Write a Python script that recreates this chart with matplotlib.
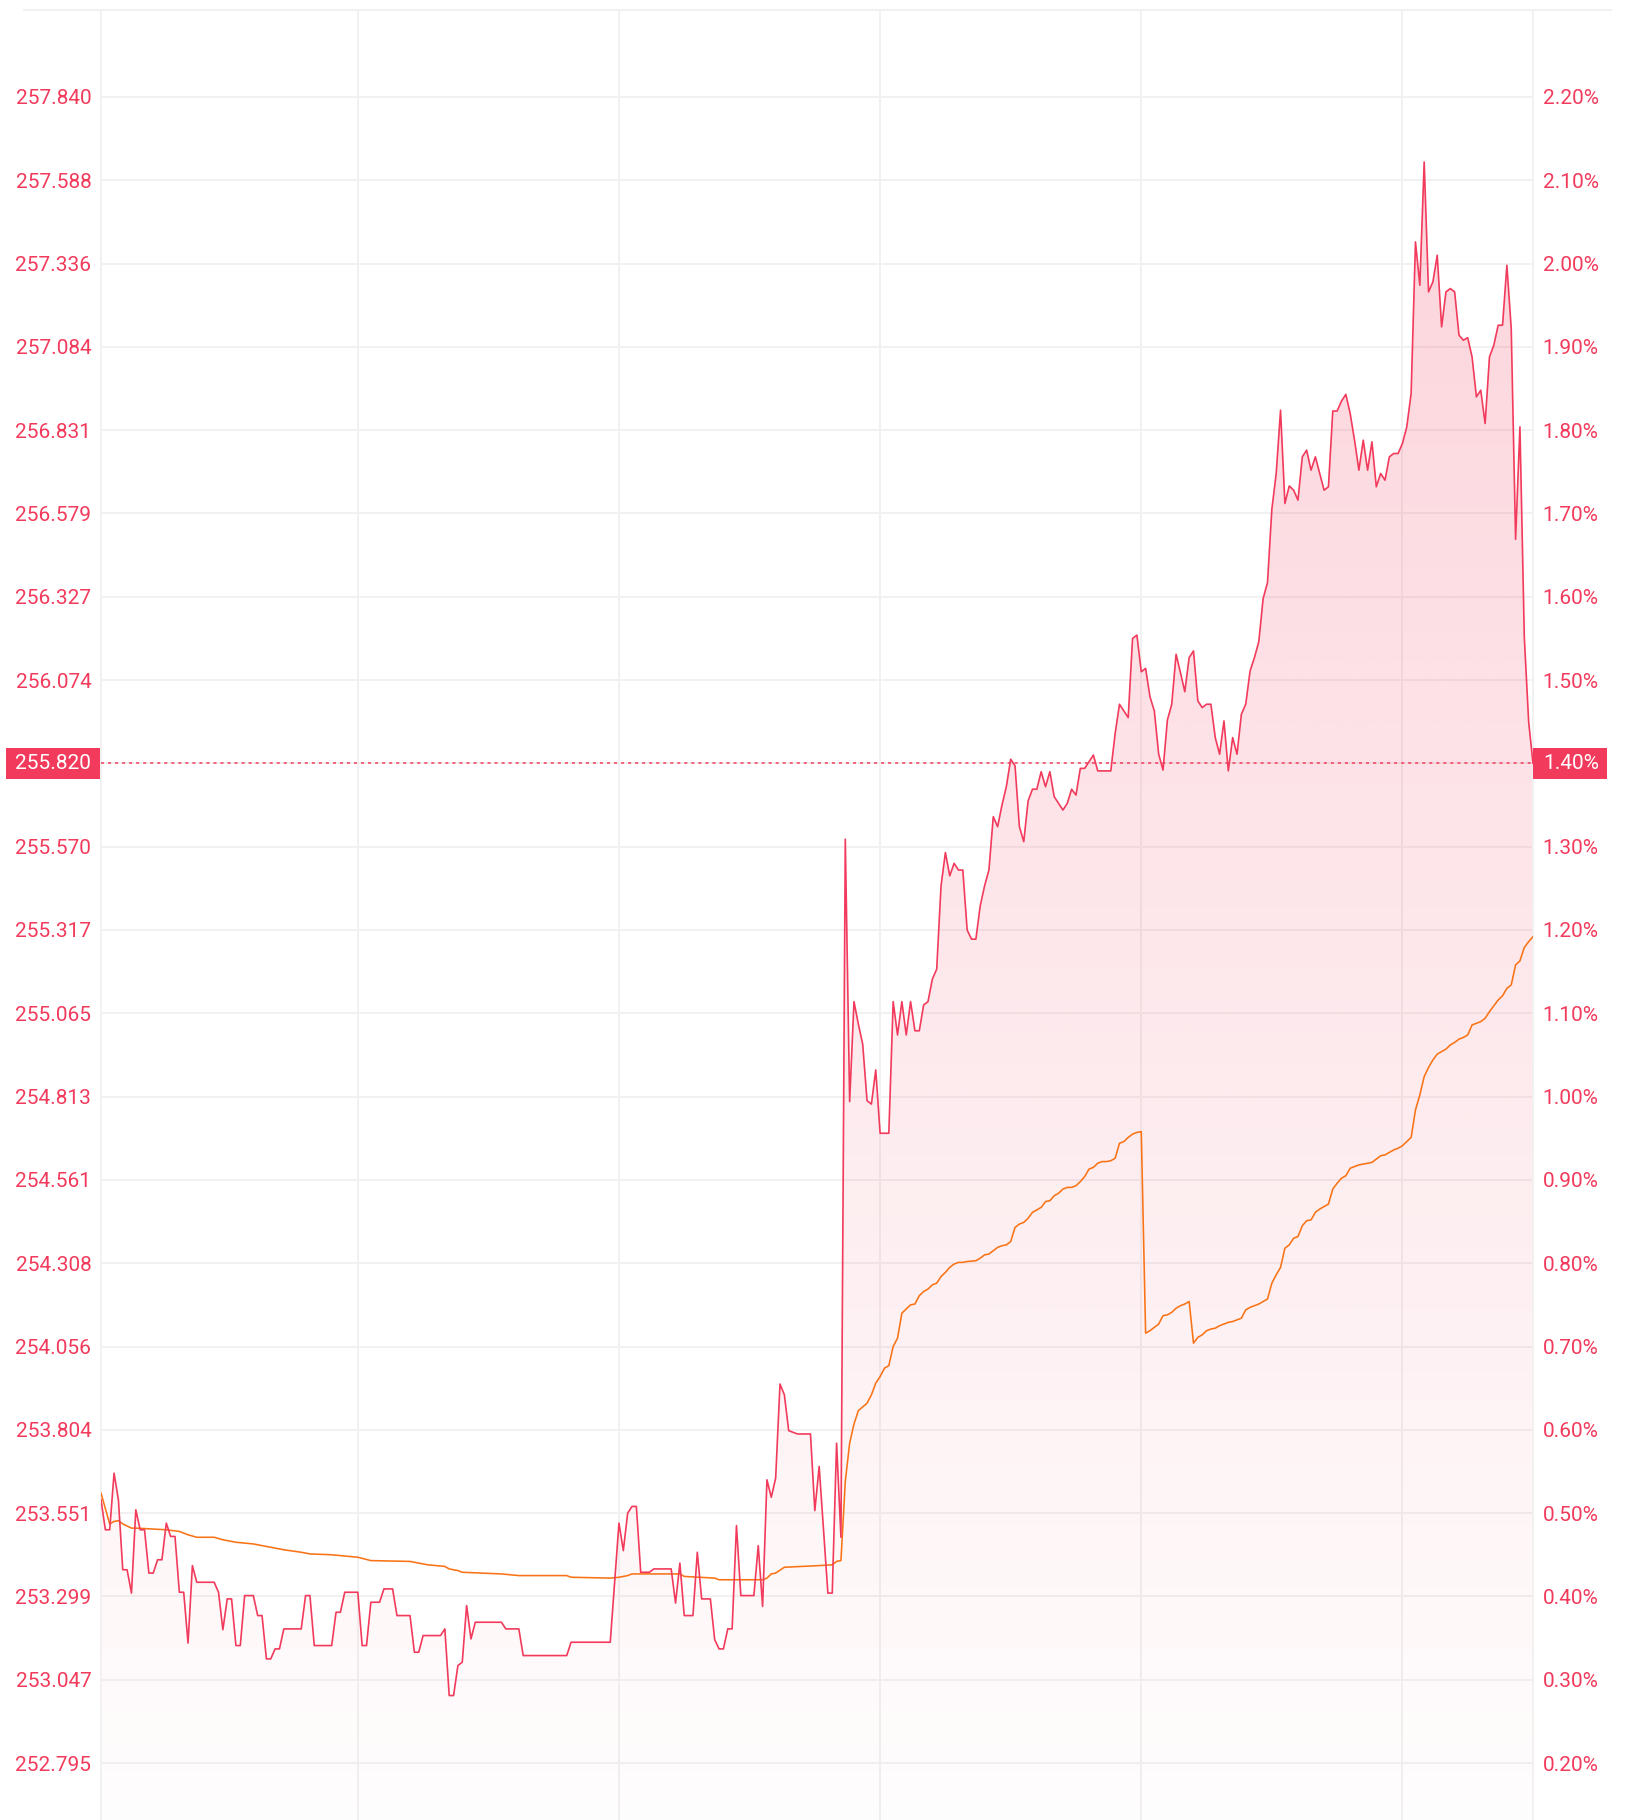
import numpy as np
import matplotlib

matplotlib.use("Agg")
import matplotlib.pyplot as plt
from matplotlib import transforms
from matplotlib.colors import to_rgb
from matplotlib.lines import Line2D
from matplotlib.patches import Polygon, Rectangle

RED = "#f23b5c"
ORANGE = "#f97316"
GRID = "#f1f1f1"

plt.rcParams["font.family"] = ["Roboto", "DejaVu Sans"]

# intraday price, as % change vs previous close (minute of session)
price_t = [
    1, 2, 3, 4, 5, 6, 7, 8, 9, 10, 11, 12, 13, 14, 15, 16, 17, 18, 19, 20,
    21, 22, 23, 27, 28, 29, 30, 31, 32, 33, 34, 36, 37, 38, 39, 40, 41, 42, 43, 47,
    48, 49, 50, 54, 55, 56, 57, 60, 61, 62, 63, 65, 66, 68, 69, 72, 73, 74, 75, 79,
    80, 81, 82, 83, 84, 85, 86, 87, 93, 94, 97, 98, 108, 109, 118, 120, 121, 122, 123, 124,
    125, 127, 128, 132, 133, 134, 135, 137, 138, 139, 141, 142, 143, 144, 145, 146, 147, 148, 151, 152,
    153, 154, 155, 156, 157, 158, 159, 161, 164, 165, 166, 168, 169, 170, 171, 172, 173, 174, 175, 176,
    177, 178, 179, 180, 182, 183, 184, 185, 186, 187, 188, 189, 190, 191, 192, 193, 194, 195, 196, 197,
    198, 199, 200, 201, 202, 203, 204, 205, 206, 207, 208, 209, 210, 211, 212, 213, 214, 215, 216, 217,
    218, 219, 220, 221, 222, 223, 224, 225, 226, 227, 228, 229, 230, 233, 234, 235, 236, 237, 238, 239,
    240, 241, 242, 243, 244, 245, 246, 247, 248, 249, 250, 251, 252, 253, 254, 255, 256, 257, 258, 259,
    260, 261, 262, 263, 264, 265, 266, 267, 268, 269, 270, 271, 272, 273, 274, 275, 276, 277, 278, 279,
    280, 281, 282, 283, 284, 285, 286, 287, 288, 289, 290, 291, 292, 293, 294, 295, 296, 297, 298, 299,
    300, 301, 302, 303, 304, 305, 306, 307, 308, 309, 310, 311, 312, 313, 314, 315, 316, 317, 318, 319,
    320, 321, 322, 323, 324, 325, 326, 327, 328, 329, 330,
]
price_pct = [
    0.516, 0.480, 0.480, 0.548, 0.516, 0.432, 0.432, 0.404, 0.504, 0.480, 0.480, 0.428, 0.428, 0.444, 0.444, 0.488, 0.472, 0.472, 0.405, 0.405,
    0.344, 0.437, 0.417, 0.417, 0.405, 0.360, 0.397, 0.397, 0.341, 0.341, 0.401, 0.401, 0.377, 0.377, 0.325, 0.325, 0.337, 0.337, 0.361, 0.361,
    0.401, 0.401, 0.341, 0.341, 0.381, 0.381, 0.405, 0.405, 0.341, 0.341, 0.393, 0.393, 0.409, 0.409, 0.377, 0.377, 0.333, 0.333, 0.353, 0.353,
    0.361, 0.281, 0.281, 0.317, 0.321, 0.389, 0.349, 0.369, 0.369, 0.361, 0.361, 0.329, 0.329, 0.345, 0.345, 0.488, 0.455, 0.500, 0.508, 0.508,
    0.429, 0.429, 0.433, 0.433, 0.392, 0.440, 0.377, 0.377, 0.453, 0.397, 0.397, 0.348, 0.337, 0.337, 0.361, 0.361, 0.485, 0.401, 0.401, 0.461,
    0.388, 0.540, 0.519, 0.542, 0.655, 0.642, 0.599, 0.595, 0.595, 0.503, 0.556, 0.404, 0.404, 0.584, 0.471, 1.309, 0.994, 1.114, 1.087, 1.063,
    0.995, 0.991, 1.032, 0.956, 0.956, 1.114, 1.074, 1.114, 1.074, 1.114, 1.079, 1.079, 1.110, 1.114, 1.141, 1.153, 1.253, 1.293, 1.265, 1.280,
    1.272, 1.272, 1.200, 1.189, 1.189, 1.229, 1.253, 1.272, 1.336, 1.324, 1.350, 1.372, 1.405, 1.397, 1.324, 1.306, 1.355, 1.369, 1.369, 1.390,
    1.372, 1.390, 1.360, 1.352, 1.344, 1.352, 1.369, 1.362, 1.394, 1.394, 1.402, 1.410, 1.391, 1.391, 1.436, 1.471, 1.463, 1.455, 1.550, 1.554,
    1.510, 1.514, 1.480, 1.463, 1.411, 1.392, 1.452, 1.471, 1.531, 1.509, 1.486, 1.527, 1.535, 1.475, 1.467, 1.471, 1.471, 1.431, 1.411, 1.451,
    1.391, 1.431, 1.411, 1.459, 1.471, 1.511, 1.527, 1.546, 1.598, 1.617, 1.705, 1.748, 1.824, 1.712, 1.733, 1.728, 1.716, 1.768, 1.776, 1.752,
    1.768, 1.748, 1.728, 1.732, 1.823, 1.823, 1.835, 1.843, 1.820, 1.788, 1.752, 1.788, 1.752, 1.786, 1.732, 1.748, 1.740, 1.768, 1.772, 1.772,
    1.784, 1.804, 1.844, 2.026, 1.974, 2.122, 1.966, 1.978, 2.010, 1.924, 1.966, 1.970, 1.966, 1.914, 1.908, 1.911, 1.888, 1.840, 1.848, 1.808,
    1.888, 1.902, 1.926, 1.926, 1.998, 1.922, 1.669, 1.804, 1.552, 1.450, 1.400,
]

# VWAP on the same scale
vwap_t = [
    1, 3, 4, 5, 6, 8, 9, 16, 19, 21, 23, 27, 29, 32, 36, 39, 43, 47, 49, 54,
    60, 63, 72, 76, 80, 81, 83, 84, 93, 97, 108, 109, 118, 120, 122, 123, 134, 135, 142, 143,
    153, 154, 155, 156, 158, 166, 169, 170, 171, 172, 173, 174, 175, 177, 178, 179, 180, 181, 182, 183,
    184, 185, 187, 188, 189, 190, 191, 192, 193, 194, 195, 196, 197, 198, 199, 200, 202, 203, 204, 205,
    206, 207, 208, 209, 210, 211, 212, 213, 214, 215, 216, 217, 218, 219, 220, 221, 222, 223, 224, 225,
    226, 227, 228, 229, 230, 231, 232, 233, 234, 235, 236, 237, 238, 239, 240, 241, 242, 243, 244, 245,
    246, 247, 248, 249, 250, 251, 252, 253, 254, 255, 256, 257, 258, 259, 260, 261, 262, 263, 264, 265,
    266, 267, 268, 269, 270, 271, 272, 273, 274, 275, 276, 277, 278, 279, 280, 281, 282, 283, 284, 285,
    286, 287, 288, 289, 290, 291, 292, 293, 294, 295, 296, 297, 298, 299, 300, 302, 303, 304, 305, 306,
    307, 308, 309, 310, 311, 312, 313, 314, 315, 316, 317, 318, 319, 320, 321, 322, 323, 324, 325, 326,
    327, 328, 329, 330,
]
vwap_pct = [
    0.524, 0.487, 0.490, 0.491, 0.487, 0.482, 0.482, 0.480, 0.478, 0.474, 0.471, 0.471, 0.468, 0.465, 0.463, 0.460, 0.456, 0.453, 0.451, 0.450,
    0.447, 0.443, 0.442, 0.438, 0.436, 0.433, 0.431, 0.429, 0.427, 0.425, 0.425, 0.423, 0.422, 0.423, 0.425, 0.427, 0.427, 0.424, 0.422, 0.420,
    0.420, 0.422, 0.427, 0.428, 0.435, 0.437, 0.438, 0.442, 0.443, 0.538, 0.584, 0.607, 0.623, 0.632, 0.642, 0.656, 0.664, 0.674, 0.677, 0.700,
    0.710, 0.740, 0.750, 0.751, 0.761, 0.766, 0.769, 0.774, 0.776, 0.784, 0.789, 0.795, 0.799, 0.801, 0.801, 0.802, 0.803, 0.806, 0.810, 0.811,
    0.815, 0.819, 0.821, 0.822, 0.826, 0.843, 0.847, 0.849, 0.854, 0.861, 0.864, 0.867, 0.874, 0.875, 0.881, 0.884, 0.889, 0.891, 0.891, 0.893,
    0.898, 0.904, 0.913, 0.915, 0.920, 0.922, 0.922, 0.923, 0.926, 0.944, 0.946, 0.951, 0.955, 0.957, 0.958, 0.716, 0.719, 0.723, 0.727, 0.737,
    0.738, 0.741, 0.746, 0.749, 0.751, 0.754, 0.704, 0.711, 0.714, 0.719, 0.721, 0.722, 0.725, 0.727, 0.729, 0.730, 0.732, 0.734, 0.744, 0.747,
    0.749, 0.751, 0.754, 0.757, 0.776, 0.786, 0.795, 0.818, 0.822, 0.830, 0.832, 0.845, 0.851, 0.852, 0.861, 0.865, 0.868, 0.871, 0.889, 0.896,
    0.902, 0.905, 0.914, 0.916, 0.918, 0.919, 0.920, 0.921, 0.925, 0.929, 0.930, 0.933, 0.936, 0.938, 0.941, 0.951, 0.984, 1.002, 1.024, 1.035,
    1.044, 1.051, 1.054, 1.057, 1.062, 1.065, 1.069, 1.071, 1.074, 1.086, 1.088, 1.090, 1.094, 1.102, 1.109, 1.116, 1.121, 1.130, 1.134, 1.158,
    1.163, 1.179, 1.186, 1.192,
]

pct_ticks = [0.2, 0.3, 0.4, 0.5, 0.6, 0.7, 0.8, 0.9, 1.0, 1.1, 1.2, 1.3, 1.4,
             1.5, 1.6, 1.7, 1.8, 1.9, 2.0, 2.1, 2.2]
price_labels = ["252.795", "253.047", "253.299", "253.551", "253.804", "254.056",
                "254.308", "254.561", "254.813", "255.065", "255.317", "255.570", "",
                "256.074", "256.327", "256.579", "256.831", "257.084", "257.336",
                "257.588", "257.840"]
pct_labels = ["0.20%", "0.30%", "0.40%", "0.50%", "0.60%", "0.70%", "0.80%",
              "0.90%", "1.00%", "1.10%", "1.20%", "1.30%", "", "1.50%", "1.60%",
              "1.70%", "1.80%", "1.90%", "2.00%", "2.10%", "2.20%"]
last_price = "255.820"
last_pct = "1.40%"
hour_marks = [60, 120, 180, 240, 300]

W, H = 1636, 1820
fig = plt.figure(figsize=(W / 100, H / 100), dpi=100)
ax = fig.add_axes([101 / W, 0, (1533 - 101) / W, 1 - 10 / H])
ymin, ymax = 0.1316, 2.3044
xmin, xmax = 1, 330

# gradient area under the price line
ramp = np.linspace(0.0, 1.0, 256)
rgba = np.zeros((256, 1, 4))
rgba[:, 0, :3] = to_rgb(RED)
rgba[:, 0, 3] = 0.01 + 0.21 * ramp
im = ax.imshow(rgba, extent=(xmin, xmax, ymin, max(price_pct)), origin="lower",
               aspect="auto", interpolation="bilinear", zorder=1)
verts = list(zip(price_t, price_pct)) + [(price_t[-1], ymin), (price_t[0], ymin)]
area = Polygon(verts, closed=True, facecolor="none", edgecolor="none")
ax.add_patch(area)
im.set_clip_path(area)

ax.plot(vwap_t, vwap_pct, color=ORANGE, lw=1.15, zorder=3)
ax.plot(price_t, price_pct, color=RED, lw=1.2, zorder=4)
ax.axhline(price_pct[-1], color=RED, lw=1.1, dashes=(2, 2.6), zorder=5)

ax.set_xlim(xmin, xmax)
ax.set_ylim(ymin, ymax)
ax.set_xticks(hour_marks)
ax.set_xticklabels([])
ax.set_yticks(pct_ticks)
ax.set_yticklabels(price_labels)
ax.grid(True, color=GRID, lw=1.4, zorder=0)
ax.set_axisbelow(True)
ax.tick_params(axis="both", length=0)
ax.tick_params(axis="y", colors=RED, labelsize=15, pad=7)
for side in ("top", "bottom"):
    ax.spines[side].set_visible(False)
for side in ("left", "right"):
    ax.spines[side].set_color(GRID)
    ax.spines[side].set_linewidth(1.4)

ax2 = ax.twinx()
ax2.set_ylim(ymin, ymax)
ax2.set_yticks(pct_ticks)
ax2.set_yticklabels(pct_labels)
ax2.tick_params(axis="y", length=0, colors=RED, labelsize=15, pad=7)
for s in ax2.spines.values():
    s.set_visible(False)

# last value badges on both sides
btr = transforms.blended_transform_factory(fig.transFigure, ax.transData)
box_h = 31 * (ymax - ymin) / (H - 10)
lvl = price_pct[-1]
fig.add_artist(Rectangle((6 / W, lvl - box_h / 2), 94 / W, box_h, transform=btr,
                         facecolor=RED, edgecolor="none"))
fig.text(91 / W, lvl, last_price, transform=btr, ha="right", va="center",
         color="white", fontsize=15)
fig.add_artist(Rectangle((1533 / W, lvl - box_h / 2), 74 / W, box_h, transform=btr,
                         facecolor=RED, edgecolor="none"))
fig.text(1543 / W, lvl, last_pct, transform=btr, ha="left", va="center",
         color="white", fontsize=15)

fig.add_artist(Line2D([24 / W, 1611 / W], [1 - 9.5 / H] * 2, color=GRID, lw=1.4))

fig.savefig("out.png", dpi=100)
plt.close(fig)
